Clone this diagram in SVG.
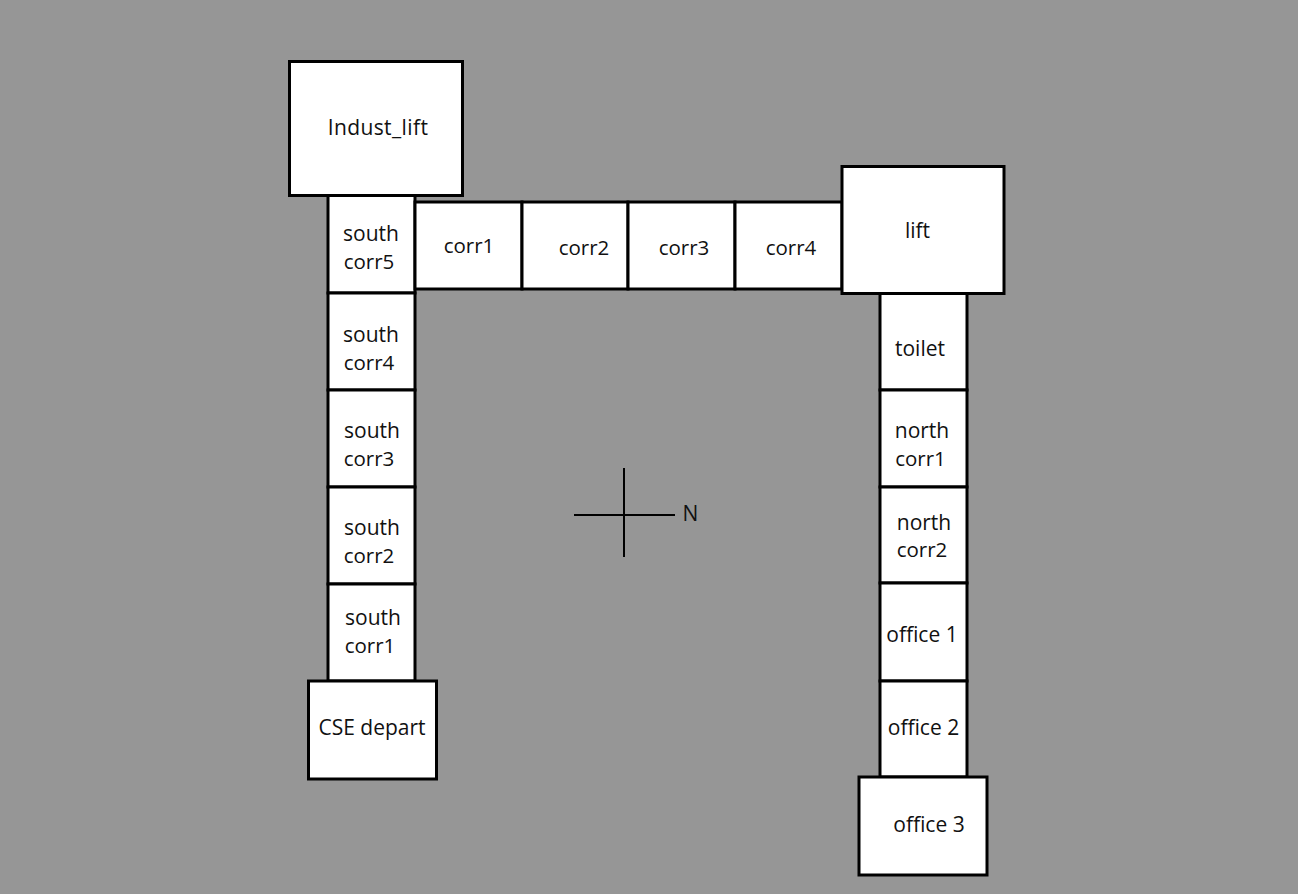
<svg xmlns="http://www.w3.org/2000/svg" width="1298" height="894" viewBox="0 0 1298 894">
<style>
rect.b{fill:#fff;stroke:#000;stroke-width:3}
text{font-family:"Open Sans","Noto Sans",sans-serif;font-size:21px;fill:#111;text-anchor:middle}
text.c{font-size:20.500px}
line{stroke:#000;stroke-width:2}
</style>
<rect width="1298" height="894" fill="#969696"/>
<g id="south5"><rect class="b" x="328" y="195" width="87" height="98"/><text x="371" y="241">south</text><text class="c" x="369" y="268.500">corr5</text></g>
<g id="south4"><rect class="b" x="328" y="293" width="87" height="97"/><text x="371" y="342">south</text><text class="c" x="369" y="369.500">corr4</text></g>
<g id="south3"><rect class="b" x="328" y="390" width="87" height="97"/><text x="372" y="438">south</text><text class="c" x="369" y="465.500">corr3</text></g>
<g id="south2"><rect class="b" x="328" y="487" width="87" height="97"/><text x="372" y="535">south</text><text class="c" x="369" y="562.500">corr2</text></g>
<g id="south1"><rect class="b" x="328" y="584" width="87" height="97"/><text x="373" y="625">south</text><text class="c" x="370" y="652.500">corr1</text></g>
<g id="corr1"><rect class="b" x="415" y="202" width="107" height="87"/><text class="c" x="469" y="252.500">corr1</text></g>
<g id="corr2"><rect class="b" x="522" y="202" width="106" height="87"/><text class="c" x="584" y="254.500">corr2</text></g>
<g id="corr3"><rect class="b" x="628" y="202" width="107" height="87"/><text class="c" x="684" y="254.500">corr3</text></g>
<g id="corr4"><rect class="b" x="735" y="202" width="107" height="87"/><text class="c" x="791" y="254.500">corr4</text></g>
<g id="toilet"><rect class="b" x="880" y="293" width="87" height="97"/><text x="920" y="356">toilet</text></g>
<g id="north1"><rect class="b" x="880" y="390" width="87" height="97"/><text x="922" y="438">north</text><text class="c" x="920.500" y="465.500">corr1</text></g>
<g id="north2"><rect class="b" x="880" y="487" width="87" height="96"/><text x="924" y="530">north</text><text class="c" x="922" y="556.500">corr2</text></g>
<g id="office1"><rect class="b" x="880" y="583" width="87" height="98"/><text x="922" y="642">office 1</text></g>
<g id="office2"><rect class="b" x="880" y="681" width="87" height="96"/><text x="923.500" y="735">office 2</text></g>
<g id="indust"><rect class="b" x="289.500" y="61.500" width="173" height="134"/><text x="378" y="135" letter-spacing="0.4">Indust_lift</text></g>
<g id="lift"><rect class="b" x="842" y="166.500" width="162" height="127"/><text x="917.500" y="238">lift</text></g>
<g id="cse"><rect class="b" x="308.500" y="681" width="128" height="98"/><text x="372" y="735">CSE depart</text></g>
<g id="office3"><rect class="b" x="859" y="777" width="128" height="98"/><text x="929" y="832">office 3</text></g>
<g id="compass"><line x1="574" y1="515" x2="675" y2="515"/><line x1="624" y1="468" x2="624" y2="557"/><text x="690.500" y="521">N</text></g>
</svg>
